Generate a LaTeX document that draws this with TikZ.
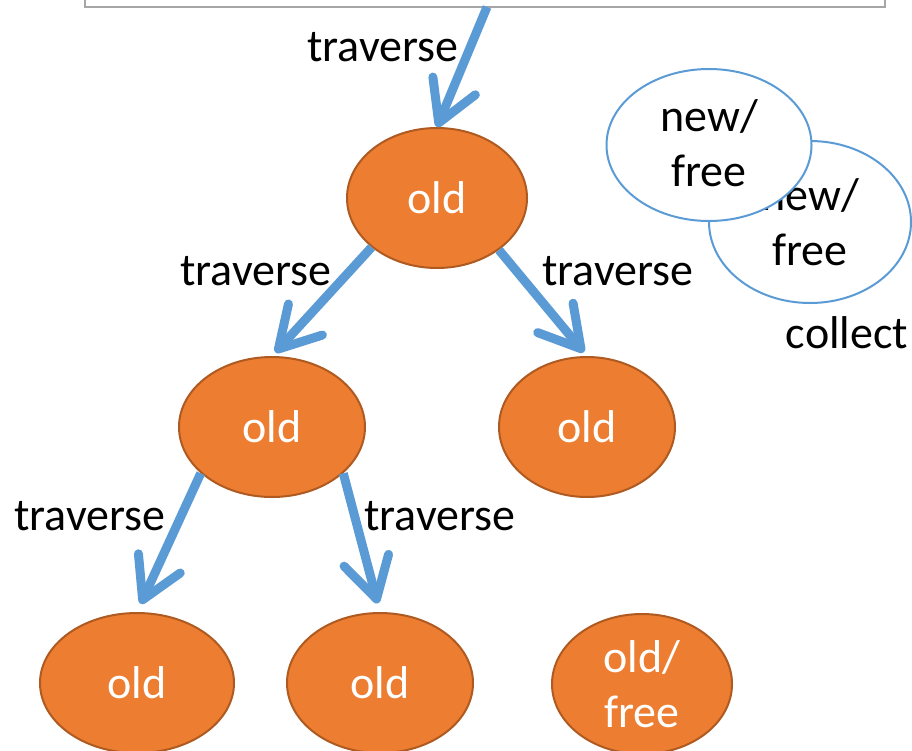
\documentclass[tikz,border=0pt]{standalone}
\usepackage{fontspec}
\setmainfont{Carlito}
\usetikzlibrary{shapes.geometric,arrows.meta}
\definecolor{ablue}{HTML}{5B9BD5}
\definecolor{aorange}{HTML}{ED7D31}
\definecolor{aoborder}{HTML}{AE5A21}
\definecolor{agray}{HTML}{A6A6A6}
\begin{document}
\begin{tikzpicture}[x=1pt,y=-1pt,
  txt/.style={font=\fontsize{46}{55}\selectfont, inner sep=0pt, align=center},
  oldnode/.style={ellipse, draw=aoborder, line width=2pt, fill=aorange, text=white, txt},
  newnode/.style={ellipse, draw=ablue, line width=2pt, fill=white, txt},
  trav/.style={draw=ablue, line width=9pt, -{Straight Barb[length=40pt,width=46pt,round]}},
  lbl/.style={txt}]
\useasboundingbox (0,0) rectangle (912,750);
\clip (0,0) rectangle (912,750);
\fill[white] (0,0) rectangle (912,750);
% top box
\node[draw=agray, line width=2pt, fill=white, minimum width=800, minimum height=60, inner sep=0pt] (topbox) at (485,-23) {};
\coordinate (boxout) at (487,7);
% tree nodes
\node[oldnode, minimum width=180, minimum height=140] (root) at (437,198) {old};
\node[oldnode, minimum width=186, minimum height=140] (left) at (272,427) {old};
\node[oldnode, minimum width=176, minimum height=140] (right) at (587,427) {old};
\node[oldnode, minimum width=194, minimum height=140] (bl) at (137,683) {old};
\node[oldnode, minimum width=186, minimum height=140] (bm) at (380,683) {old};
\node[oldnode, minimum width=180, minimum height=140] (of) at (642,684) {old/\\free};
% new/free ellipses
\node[newnode, minimum width=202, minimum height=162] (nb) at (810,222) {new/\\free};
\node[newnode, minimum width=205, minimum height=152, text depth=0pt] (nf) at (709,145) {\raisebox{3pt}{new/}\\\raisebox{3pt}{free}};
\node[lbl] (col) at (847,333) {collect};
% arrows
\draw[trav] (boxout) -- (root.north);
\draw[trav, shorten >=5pt] (root.217) -- (left.north);
\draw[trav, shorten >=5pt] (root.320) -- (right.north);
\draw[trav, shorten >=9pt] (left.213) -- (bl.north);
\draw[trav, shorten >=9pt] (left.327) -- (bm.north);
% labels
\node[lbl] (t0) at (383,47) {traverse};
\node[lbl] (t1) at (256,271) {traverse};
\node[lbl] (t2) at (618,271) {traverse};
\node[lbl] (t3) at (90,516) {traverse};
\node[lbl] (t4) at (440,516) {traverse};
\end{tikzpicture}
\end{document}
